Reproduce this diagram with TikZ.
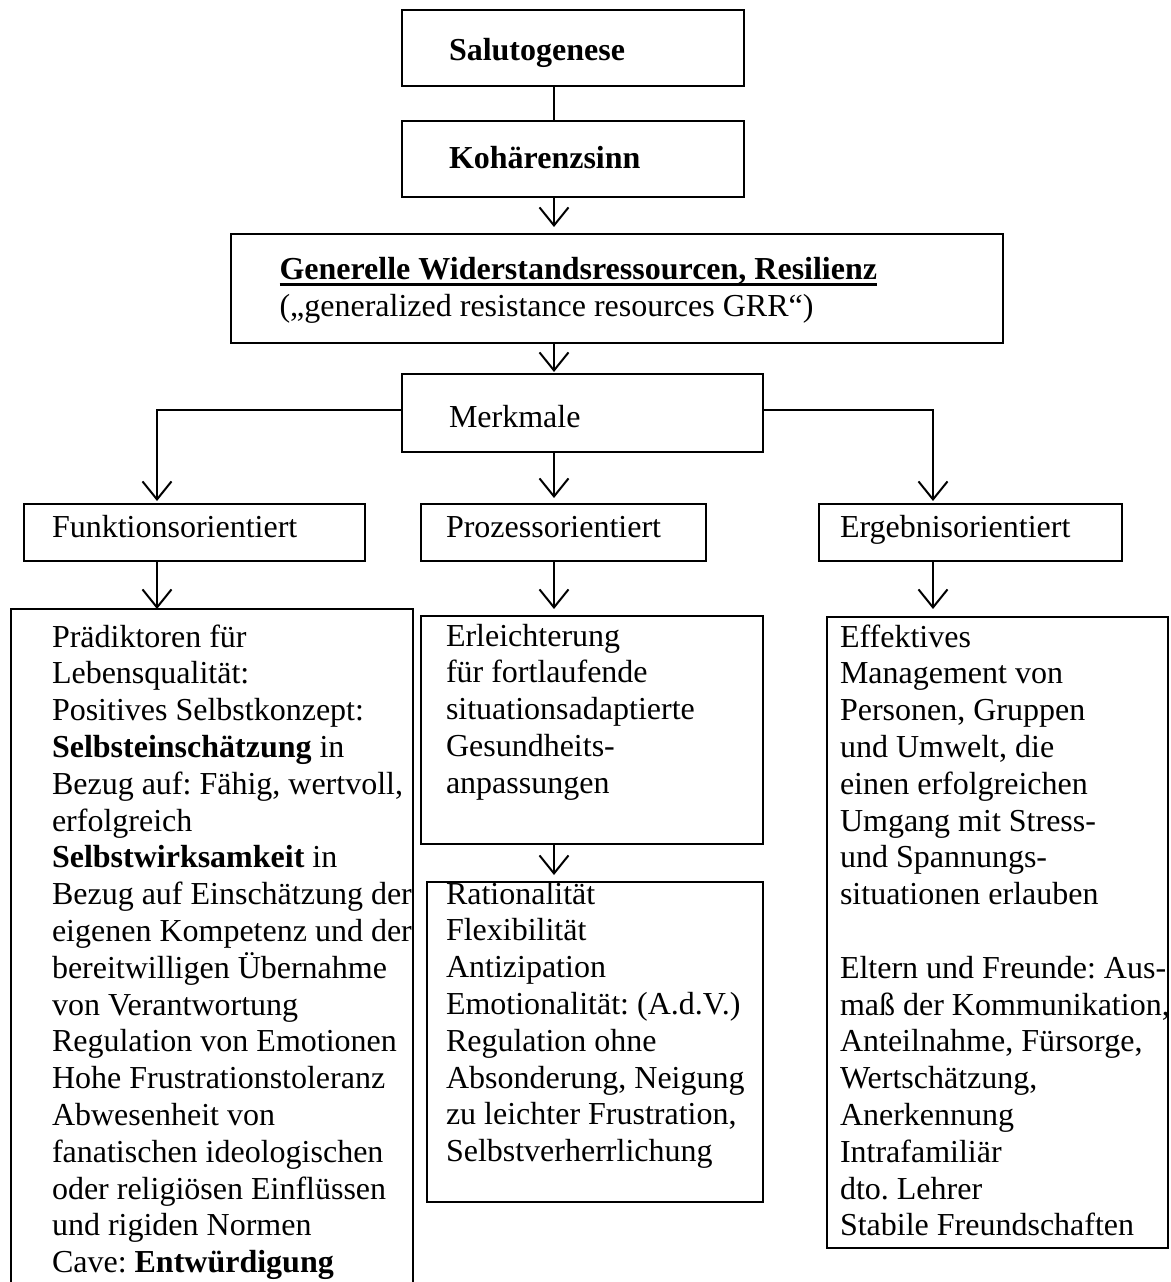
\documentclass[tikz,border=0pt]{standalone}
\usepackage{fontspec}
\setmainfont{Liberation Serif}
\usetikzlibrary{arrows.meta}
\frenchspacing
\newcommand\myul[1]{\setbox0=\hbox{#1}\rlap{\rule[-6.5pt]{\wd0}{3pt}}\box0}
\newcommand\topstrut{\rule{0pt}{30pt}}
\begin{document}
\begin{tikzpicture}[x=1pt,y=-1pt,
  box/.style={draw, line width=2pt, inner sep=0pt, outer sep=0pt, anchor=north west},
  txt/.style={inner sep=0pt, outer sep=0pt, anchor=north west, align=left, font=\fontsize{32}{36.8}\selectfont\frenchspacing},
  conn/.style={line width=2pt},
  arr/.style={conn, -{Straight Barb[length=18pt,width=29pt]}}]
\useasboundingbox (0,0) rectangle (1170,1282);
% helper coordinates
\coordinate (xl) at (157,0);
\coordinate (xm) at (554,0);
\coordinate (xr) at (933,0);
\coordinate (yb) at (0,410);
% boxes
\node[box, minimum width=342pt, minimum height=76pt] (salu) at (402,10) {};
\node[box, minimum width=342pt, minimum height=76pt] (koh) at (402,121) {};
\node[box, minimum width=772pt, minimum height=109pt] (gen) at (231,234) {};
\node[box, minimum width=361pt, minimum height=78pt] (merk) at (402,374) {};
\node[box, minimum width=341pt, minimum height=57pt] (funk) at (24,504) {};
\node[box, minimum width=285pt, minimum height=57pt] (proz) at (421,504) {};
\node[box, minimum width=303pt, minimum height=57pt] (erg) at (819,504) {};
\node[box, minimum width=402pt, minimum height=690pt] (lbox) at (11,609) {};
\node[box, minimum width=342pt, minimum height=228pt] (erl) at (421,616) {};
\node[box, minimum width=336pt, minimum height=320pt] (rat) at (427,882) {};
\node[box, minimum width=341pt, minimum height=631pt] (rbox) at (827,617) {};
% texts
\node[txt] (tsalu) at (449,30) {\topstrut\textbf{Salutogenese}};
\node[txt] (tkoh) at (449,138.5) {\topstrut\textbf{Kohärenzsinn}};
\node[txt] (tgen) at (279.5,249.5) {\topstrut\myul{\textbf{Generelle Widerstandsressourcen, Resilienz}}\\(„generalized resistance resources GRR“)};
\node[txt] (tmerk) at (449,397) {\topstrut Merkmale};
\node[txt] (tfunk) at (52,507) {\topstrut Funktionsorientiert};
\node[txt] (tproz) at (446,507) {\topstrut Prozessorientiert};
\node[txt] (terg) at (840,507) {\topstrut Ergebnisorientiert};
\node[txt] (tl) at (52,617) {\topstrut Prädiktoren für\\
Lebensqualität:\\
Positives Selbstkonzept:\\
\textbf{Selbsteinschätzung} in\\
Bezug auf: Fähig, wertvoll,\\
erfolgreich\\
\textbf{Selbstwirksamkeit} in\\
Bezug auf Einschätzung der\\
eigenen Kompetenz und der\\
bereitwilligen Übernahme\\
von Verantwortung\\
Regulation von Emotionen\\
Hohe Frustrationstoleranz\\
Abwesenheit von\\
fanatischen ideologischen\\
oder religiösen Einflüssen\\
und rigiden Normen\\
Cave: \textbf{Entwürdigung}};
\node[txt] (terl) at (446,616) {\topstrut Erleichterung\\
für fortlaufende\\
situationsadaptierte\\
Gesundheits-\\
anpassungen};
\node[txt] (trat) at (446,874) {\topstrut Rationalität\\
Flexibilität\\
Antizipation\\
Emotionalität: (A.d.V.)\\
Regulation ohne\\
Absonderung, Neigung\\
zu leichter Frustration,\\
Selbstverherrlichung};
\node[txt] (tr) at (840,617) {\topstrut Effektives\\
Management von\\
Personen, Gruppen\\
und Umwelt, die\\
einen erfolgreichen\\
Umgang mit Stress-\\
und Spannungs-\\
situationen erlauben\\[36.8pt]
Eltern und Freunde: Aus-\\
maß der Kommunikation,\\
Anteilnahme, Fürsorge,\\
Wertschätzung,\\
Anerkennung\\
Intrafamiliär\\
dto. Lehrer\\
Stabile Freundschaften};
% connectors
\draw[conn] (salu.south -| xm) -- (koh.north -| xm);
\draw[arr, shorten >=7pt] (koh.south -| xm) -- (gen.north -| xm);
\draw[arr, shorten >=2pt] (gen.south -| xm) -- (merk.north -| xm);
\draw[arr, shorten >=3pt] (merk.west |- yb) -| (funk.north -| xl);
\draw[arr, shorten >=6pt] (merk.south -| xm) -- (proz.north -| xm);
\draw[arr, shorten >=3pt] (merk.east |- yb) -| (erg.north -| xr);
\draw[arr] (funk.south -| xl) -- (lbox.north -| xl);
\draw[arr, shorten >=7pt] (proz.south -| xm) -- (erl.north -| xm);
\draw[arr, shorten >=8pt] (erg.south -| xr) -- (rbox.north -| xr);
\draw[arr, shorten >=7pt] (erl.south -| xm) -- (rat.north -| xm);
\end{tikzpicture}
\end{document}
